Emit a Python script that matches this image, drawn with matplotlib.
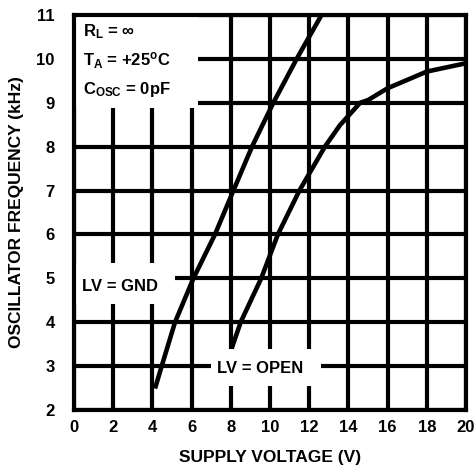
import matplotlib
matplotlib.use("Agg")
import matplotlib.pyplot as plt

# curves (supply voltage V, frequency kHz)
gnd_v = [4.13, 4.47, 5.15, 6.09, 7.19, 8.13, 9.08, 10.17, 11.36, 12.63]
gnd_f = [2.49, 3.0, 4.0, 5.0, 6.0, 7.0, 8.0, 9.0, 10.0, 11.0]
open_v = [8.04, 8.5, 9.55, 10.4, 11.5, 12.8, 13.57, 14.6, 15.0, 16.0, 18.0, 20.0]
open_f = [3.4, 4.0, 5.0, 6.0, 7.0, 8.0, 8.49, 9.0, 9.06, 9.33, 9.71, 9.9]
x_ticks = [0, 2, 4, 6, 8, 10, 12, 14, 16, 18, 20]
y_ticks = [2, 3, 4, 5, 6, 7, 8, 9, 10, 11]

plt.rcParams['font.family'] = ['Liberation Sans', 'DejaVu Sans']
plt.rcParams['font.weight'] = 'bold'
plt.rcParams['mathtext.fontset'] = 'custom'
plt.rcParams['mathtext.rm'] = 'Liberation Sans:bold'
plt.rcParams['mathtext.default'] = 'rm'

fig = plt.figure(figsize=(4.75, 4.67), dpi=100)
ax = fig.add_axes([0.156, 0.122, 0.825, 0.846])

ax.plot(gnd_v, gnd_f, color='black', lw=3.3, zorder=3, solid_capstyle='butt')
ax.plot(open_v, open_f, color='black', lw=3.3, zorder=3, solid_capstyle='butt')

ax.set_xlim(0, 20)
ax.set_ylim(2, 11)
ax.set_xticks(x_ticks)
ax.set_yticks(y_ticks)
ax.grid(True, color='black', lw=3.0)
ax.set_axisbelow(True)
for s in ax.spines.values():
    s.set_linewidth(3.0)
ax.tick_params(axis='x', length=0, pad=7, labelsize=12)
ax.tick_params(axis='y', length=0, pad=14, labelsize=12)

ax.set_xlabel("SUPPLY VOLTAGE (V)", fontsize=12.5, fontweight='bold', va='center')
ax.set_ylabel("OSCILLATOR FREQUENCY (kHz)", fontsize=12.5, fontweight='bold', va='center')
ax.xaxis.set_label_coords(0.5, -0.119)
ax.yaxis.set_label_coords(-0.148, 0.5)

# white panels that cut the grid behind the notes
ax.add_patch(plt.Rectangle((0, 8.88), 6.3, 2.12, facecolor='white', edgecolor='none', zorder=2.5))
ax.add_patch(plt.Rectangle((0, 4.41), 5.15, 0.94, facecolor='white', edgecolor='none', zorder=2.5))
ax.add_patch(plt.Rectangle((7.0, 2.55), 5.6, 0.85, facecolor='white', edgecolor='none', zorder=2.5))

ax.text(0.45, 10.62, "R$_{L}$ = ∞", fontsize=12, fontweight='bold', va='center', zorder=4)
ax.text(0.45, 9.97, "T$_{A}$ = +25$^{o}$C", fontsize=12, fontweight='bold', va='center', zorder=4)
ax.text(0.45, 9.3, "C$_{OSC}$ = 0pF", fontsize=12, fontweight='bold', va='center', zorder=4)
ax.text(0.4, 4.82, "LV = GND", fontsize=12, fontweight='bold', va='center', zorder=4)
ax.text(7.3, 2.95, "LV = OPEN", fontsize=12, fontweight='bold', va='center', zorder=4)

fig.savefig("out.png", dpi=100)
